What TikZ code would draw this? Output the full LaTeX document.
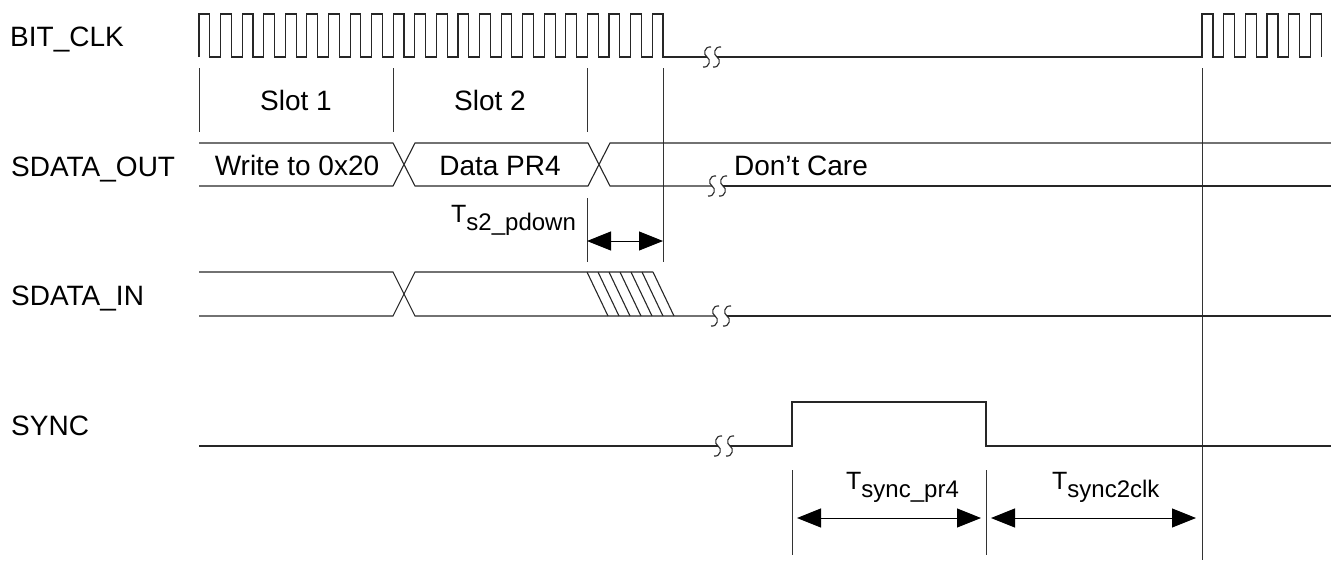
\documentclass[tikz,border=0pt]{standalone}
\usepackage{fontspec}
\setmainfont{Liberation Sans}
\usetikzlibrary{arrows.meta}
\newcommand\Smark[2]{%
  \draw[wave] (#1+4,#2-10) .. controls (#1-3,#2-11) and (#1-4,#2-2) .. (#1,#2)
     .. controls (#1+4,#2+2) and (#1+3,#2+11) .. (#1-4,#2+10);}
\begin{document}
\begin{tikzpicture}[x=1pt,y=-1pt,
  wave/.style={line width=1.1pt, black!85, line join=miter},
  guide/.style={line width=1pt, black!80},
  lbl/.style={inner sep=0pt, font=\fontsize{28}{30}\selectfont},
  tlbl/.style={inner sep=0pt, anchor=base west, font=\fontsize{25}{27}\selectfont},
  dim/.style={line width=1pt, black, {Triangle[length=24pt,width=19pt]}-{Triangle[length=24pt,width=19pt]}},
]
\useasboundingbox (0,0) rectangle (1331,560);

% signal names
\node[lbl,anchor=base west] (lclk) at (10,46) {BIT\_CLK};
\node[lbl,anchor=base west] (lout) at (11,176) {SDATA\_OUT};
\node[lbl,anchor=base west] (lin) at (11,305) {SDATA\_IN};
\node[lbl,anchor=base west] (lsync) at (11,435) {SYNC};

% guide lines
\draw[guide] (199,68) -- (199,132);
\draw[guide] (393,68) -- (393,132);
\draw[guide] (587,68) -- (587,132);
\draw[guide] (663,68) -- (663,262);
\draw[guide] (1202,68) -- (1202,560);
\draw[guide] (587,198) -- (587,262);
\draw[guide] (792,470) -- (792,555);
\draw[guide] (986,470) -- (986,555);

% BIT_CLK
\draw[wave] (199,57)
  \foreach \k in {0,...,21} { -- ({199+21.58*\k},57) -- ({199+21.58*\k},14) -- ({209.8+21.58*\k},14) -- ({209.8+21.58*\k},57) }
  -- (707,57);
\draw[wave] (717,57) -- (1202,57)
  \foreach \k in {0,...,5} { -- ({1202+21.67*\k},57) -- ({1202+21.67*\k},14) -- ({1213+21.67*\k},14) -- ({1213+21.67*\k},57) };
\Smark{707}{57}\Smark{717}{57}

% slot labels
\node[lbl,anchor=base] (s1) at (296,110) {Slot 1};
\node[lbl,anchor=base] (s2) at (490,110) {Slot 2};

% SDATA_OUT
\draw[wave] (199,143) -- (393,143) -- (415,186) -- (588,186) -- (610,143) -- (1331,143);
\draw[wave] (199,186) -- (393,186) -- (415,143) -- (588,143) -- (610,186) -- (712,186);
\draw[wave] (723,186) -- (1331,186);
\Smark{712}{186}\Smark{723}{186}
\node[lbl,anchor=base] (w20) at (297,175) {Write to 0x20};
\node[lbl,anchor=base] (dpr) at (500,175) {Data PR4};
\node[lbl,anchor=base] (dc) at (801,175) {Don’t Care};

% Ts2_pdown
\node[tlbl] (ts2) at (451,222) {T\raisebox{-8pt}{\fontsize{24}{24}\selectfont s2\_pdown}};
\coordinate (a1) at (587,241);
\coordinate (a2) at (663,241);
\draw[dim] (a1) -- (a2);

% SDATA_IN
\draw[wave] (199,272) -- (393,272) -- (415,316) -- (715,316);
\draw[wave] (727,316) -- (1331,316);
\draw[wave] (199,316) -- (393,316) -- (415,272) -- (653,272);
\foreach \k in {0,...,6} \draw[wave] ({587+11*\k},272) -- ({608+11*\k},316);
\Smark{715}{316}\Smark{727}{316}

% SYNC
\draw[wave] (199,446) -- (718,446);
\draw[wave] (730,446) -- (792,446) -- (792,402) -- (986,402) -- (986,446) -- (1331,446);
\Smark{718}{446}\Smark{730}{446}

% sync timings
\node[tlbl] (tsp) at (846,489) {T\raisebox{-8.5pt}{\fontsize{24}{24}\selectfont sync\_pr4}};
\node[tlbl] (tsc) at (1052,489) {T\raisebox{-8.5pt}{\fontsize{24}{24}\selectfont sync2clk}};
\coordinate (b1) at (797,518);
\coordinate (b2) at (981,518);
\coordinate (c1) at (991,518);
\coordinate (c2) at (1196,518);
\draw[dim] (b1) -- (b2);
\draw[dim] (c1) -- (c2);
\end{tikzpicture}
\end{document}
